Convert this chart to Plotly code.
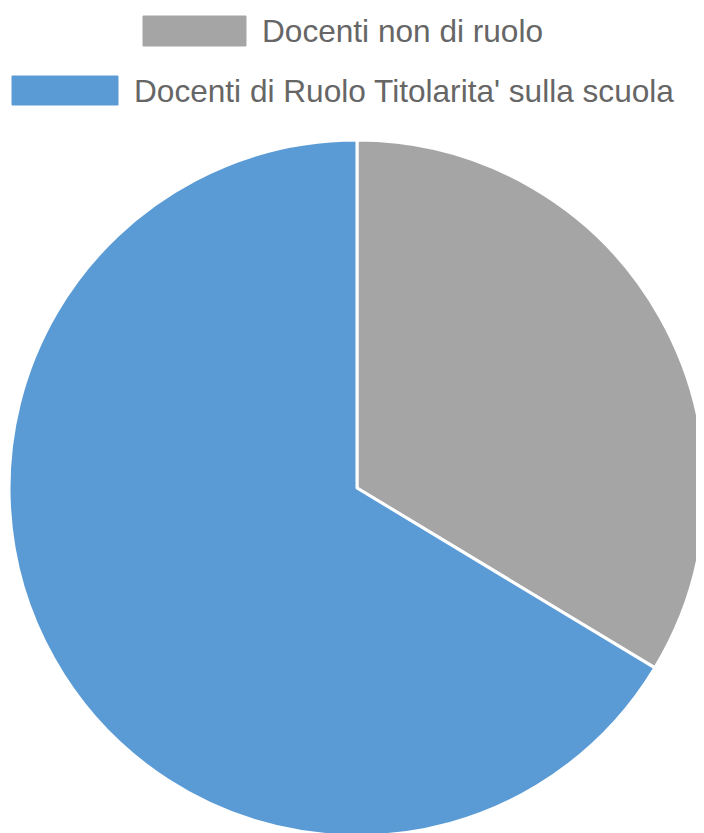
import plotly.graph_objects as go

# Data
labels = ["Docenti non di ruolo", "Docenti di Ruolo Titolarita' sulla scuola"]
values = [36, 71]
colors = ["#a5a5a5", "#5b9bd5"]

W, H = 704, 833
OFF = 8  # page body margin

fig = go.Figure()
fig.add_trace(go.Pie(
    labels=labels,
    values=values,
    marker=dict(colors=colors, line=dict(color="white", width=3)),
    sort=False,
    direction="clockwise",
    rotation=0,
    textinfo="none",
    hoverinfo="label+value",
    showlegend=False,
    domain=dict(x=[(9 - OFF) / W, (705 - OFF) / W],
                y=[1 - (836 - OFF) / H, 1 - (140 - OFF) / H]),
))

# Custom legend (one centered row per item, like Chart.js)
legend_rows = [
    dict(box_x0=143, box_x1=246, y0=16, y1=46),
    dict(box_x0=12, box_x1=118, y0=76, y1=105),
]
shapes = []
annotations = []
for lab, col, row in zip(labels, colors, legend_rows):
    shapes.append(dict(
        type="rect", xref="paper", yref="paper",
        x0=(row["box_x0"] - OFF) / W, x1=(row["box_x1"] - OFF) / W,
        y0=1 - (row["y1"] - OFF) / H, y1=1 - (row["y0"] - OFF) / H,
        fillcolor=col, line=dict(color=col, width=1),
    ))
    annotations.append(dict(
        xref="paper", yref="paper",
        x=(row["box_x1"] + 14 - OFF) / W,
        y=1 - ((row["y0"] + row["y1"]) / 2 - OFF) / H,
        xanchor="left", yanchor="middle",
        text=lab, showarrow=False,
        font=dict(family="Liberation Sans, Arial, sans-serif", size=31.6, color="#666666"),
    ))

fig.update_layout(
    width=W, height=H,
    margin=dict(l=0, r=0, t=0, b=0),
    paper_bgcolor="white",
    plot_bgcolor="white",
    shapes=shapes,
    annotations=annotations,
)

fig.write_html("out.html")
